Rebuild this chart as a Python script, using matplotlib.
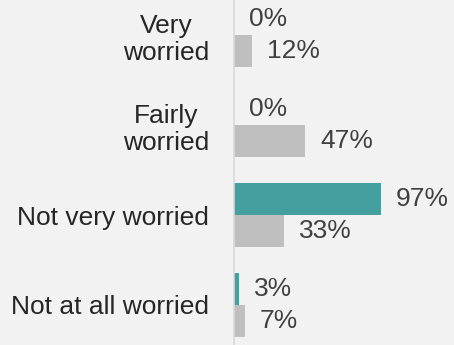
import matplotlib

matplotlib.use("Agg")
import matplotlib.pyplot as plt
import numpy as np

plt.rcParams["font.family"] = ["Liberation Sans", "DejaVu Sans"]

categories = ["Very\nworried", "Fairly\nworried", "Not very worried", "Not at all worried"]
series_teal = [0, 0, 97, 3]
series_gray = [12, 47, 33, 7]

bg = "#f2f2f2"
teal = "#43a09f"
gray = "#bfbfbf"

fig = plt.figure(figsize=(4.54, 3.45), dpi=100, facecolor=bg)
ax = fig.add_axes([234 / 454, 0, 1 - 234 / 454, 1], facecolor=bg)

y = np.arange(len(categories))
h = 32 / 90
ax.barh(y - h / 2, series_teal, height=h, color=teal)
ax.barh(y + h / 2, series_gray, height=h, color=gray)

for yy, val in zip(y - h / 2, series_teal):
    ax.annotate(f"{val}%", (val, yy), xytext=(11, 0), textcoords="offset points",
                ha="left", va="center", fontsize=19, color="#404040")
for yy, val in zip(y + h / 2, series_gray):
    ax.annotate(f"{val}%", (val, yy), xytext=(11, 0), textcoords="offset points",
                ha="left", va="center", fontsize=19, color="#404040")

ax.set_xlim(0, 220 / 1.515)
ax.set_ylim(310 / 90, -35 / 90)
ax.set_xticks([])
ax.set_yticks(y)
ax.set_yticklabels(categories, fontsize=19, color="#262626")
for lbl in ax.get_yticklabels():
    lbl.set_multialignment("center")
ax.tick_params(axis="y", length=0, pad=18)

for side in ["top", "right", "bottom"]:
    ax.spines[side].set_visible(False)
ax.spines["left"].set_color("#d9d9d9")
ax.spines["left"].set_linewidth(1.2)

fig.savefig("out.png", dpi=100, facecolor=bg)
